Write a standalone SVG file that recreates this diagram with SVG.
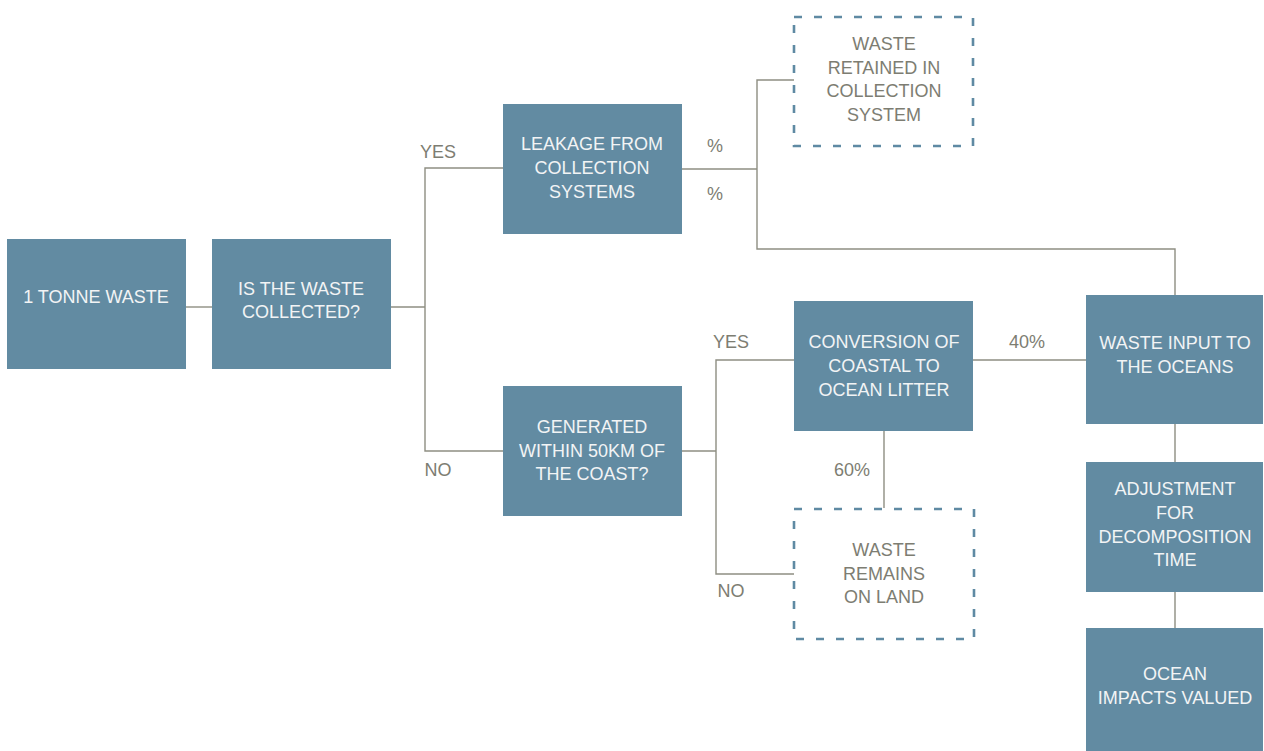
<svg xmlns="http://www.w3.org/2000/svg" width="1264" height="751" viewBox="0 0 1264 751">
<style>
.box{fill:#628ba2}
.dbox{fill:none;stroke:#5f8aa3;stroke-width:2.6;stroke-dasharray:8 12}
.t{font-family:"Liberation Sans",Arial,sans-serif;font-size:18px;text-anchor:middle;fill:#f2f4f5}
.g{font-family:"Liberation Sans",Arial,sans-serif;font-size:18px;text-anchor:middle;fill:#7d7d72}
.c{fill:none;stroke:#8e8e82;stroke-width:1.4}
</style>
<rect width="1264" height="751" fill="#ffffff"/>
<g id="connectors">
<path class="c" d="M186 307H212"/>
<path class="c" d="M391 307H425M503 168H425V451H503"/>
<path class="c" d="M682 169H757M794 80H757V249H1175V295"/>
<path class="c" d="M682 451H716M794 360H716V574H794"/>
<path class="c" d="M973 360H1086"/>
<path class="c" d="M884 431V508"/>
<path class="c" d="M1175 424V462M1175 592V628"/>
</g>
<g id="labels">
<text class="g" x="438" y="158">YES</text>
<text class="g" x="438" y="476">NO</text>
<text class="g" x="731" y="348">YES</text>
<text class="g" x="731" y="597">NO</text>
<text class="g" x="715" y="152">%</text>
<text class="g" x="715" y="200">%</text>
<text class="g" x="1027" y="348">40%</text>
<text class="g" x="852" y="476">60%</text>
</g>
<g id="n1"><rect class="box" x="7" y="239" width="179" height="130"/><text class="t" x="96" y="303">1 TONNE WASTE</text></g>
<g id="n2"><rect class="box" x="212" y="239" width="179" height="130"/><text class="t" x="301" y="295">IS THE WASTE</text><text class="t" x="301" y="318">COLLECTED?</text></g>
<g id="n3"><rect class="box" x="503" y="104" width="179" height="130"/><text class="t" x="592" y="150">LEAKAGE FROM</text><text class="t" x="592" y="174">COLLECTION</text><text class="t" x="592" y="198">SYSTEMS</text></g>
<g id="n4"><rect class="dbox" x="794" y="17" width="179" height="129"/><text class="g" x="884" y="50">WASTE</text><text class="g" x="884" y="74">RETAINED IN</text><text class="g" x="884" y="97">COLLECTION</text><text class="g" x="884" y="121">SYSTEM</text></g>
<g id="n5"><rect class="box" x="503" y="386" width="179" height="130"/><text class="t" x="592" y="433">GENERATED</text><text class="t" x="592" y="457">WITHIN 50KM OF</text><text class="t" x="592" y="480">THE COAST?</text></g>
<g id="n6"><rect class="box" x="794" y="301" width="179" height="130"/><text class="t" x="884" y="348">CONVERSION OF</text><text class="t" x="884" y="372">COASTAL TO</text><text class="t" x="884" y="396">OCEAN LITTER</text></g>
<g id="n7"><rect class="dbox" x="794" y="509" width="180" height="130"/><text class="g" x="884" y="556">WASTE</text><text class="g" x="884" y="580">REMAINS</text><text class="g" x="884" y="603">ON LAND</text></g>
<g id="n8"><rect class="box" x="1086" y="295" width="177" height="129"/><text class="t" x="1175" y="349">WASTE INPUT TO</text><text class="t" x="1175" y="373">THE OCEANS</text></g>
<g id="n9"><rect class="box" x="1086" y="462" width="177" height="130"/><text class="t" x="1175" y="495">ADJUSTMENT</text><text class="t" x="1175" y="519">FOR</text><text class="t" x="1175" y="543">DECOMPOSITION</text><text class="t" x="1175" y="566">TIME</text></g>
<g id="n10"><rect class="box" x="1086" y="628" width="177" height="130"/><text class="t" x="1175" y="680">OCEAN</text><text class="t" x="1175" y="704">IMPACTS VALUED</text></g>
</svg>
